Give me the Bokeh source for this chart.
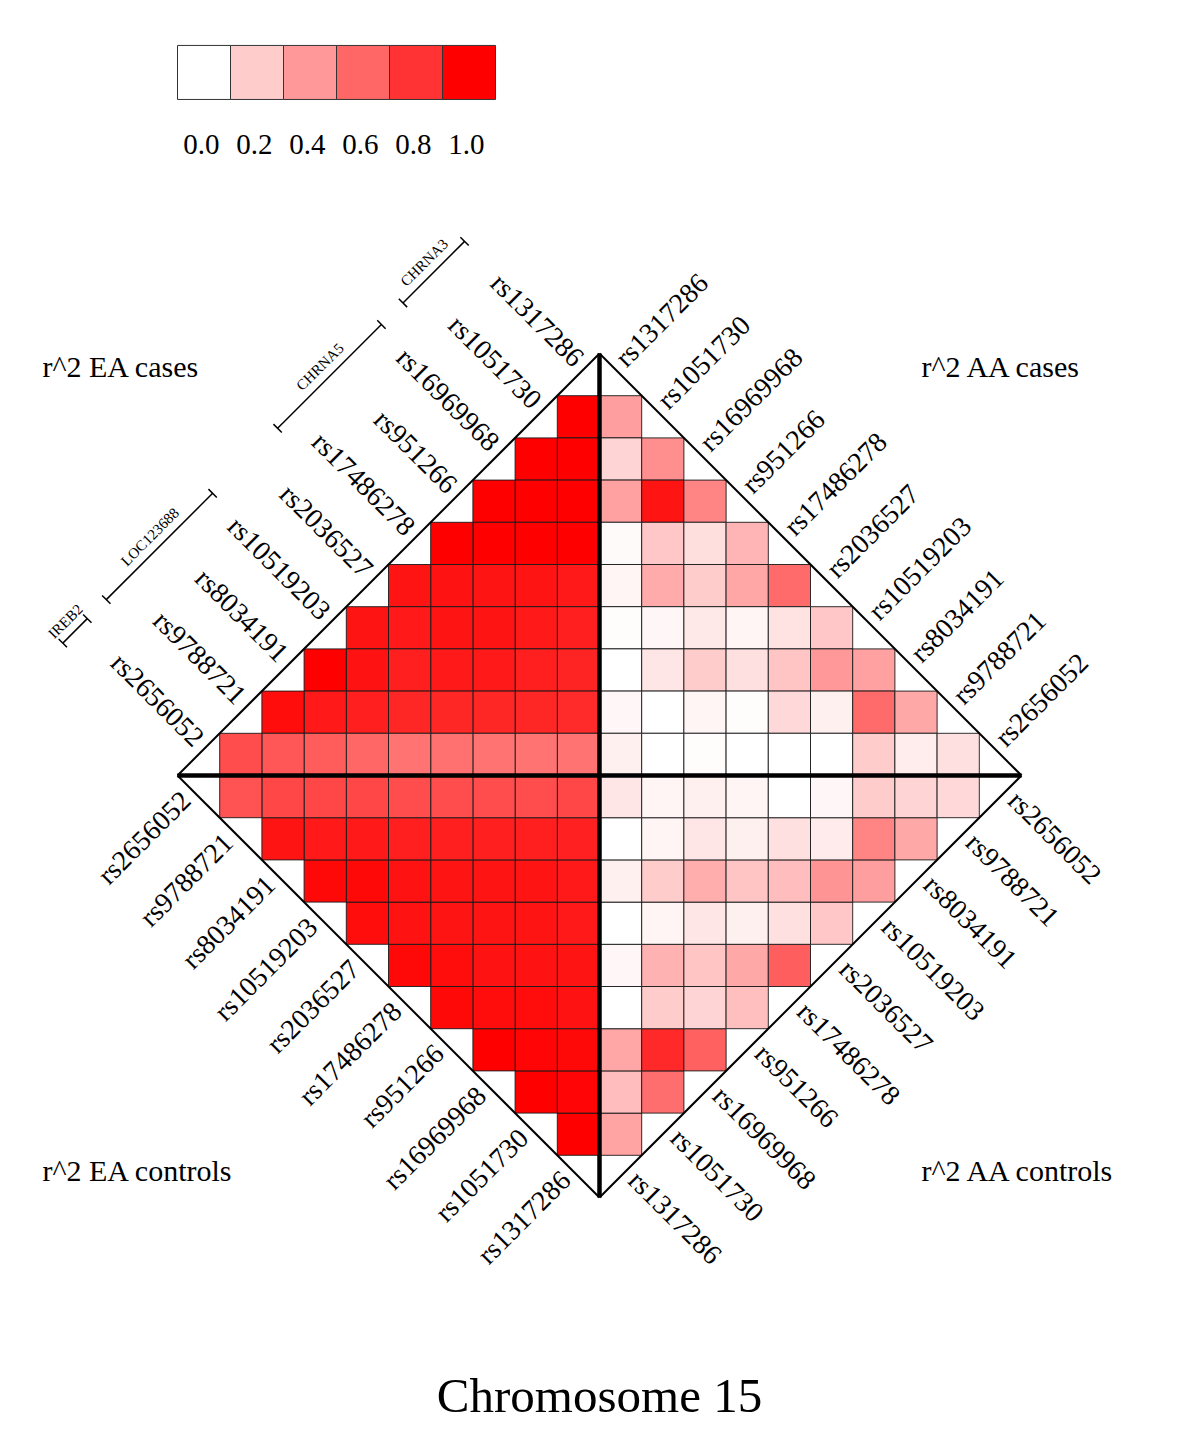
import math
from bokeh.plotting import figure
from bokeh.models import Range1d, ColumnDataSource
from bokeh.embed import file_html
from bokeh.resources import INLINE
from bokeh.core.properties import value

# ---------------- data ----------------
snps = ["rs1317286", "rs1051730", "rs16969968", "rs951266", "rs17486278",
        "rs2036527", "rs10519203", "rs8034191", "rs9788721", "rs2656052"]

# r^2 values: row i (SNP i, i = 1..9) vs SNP j (j = 0..i-1)
ea_cases = [
    [1.00],
    [1.00, 1.00],
    [1.00, 1.00, 1.00],
    [1.00, 1.00, 1.00, 1.00],
    [0.90, 0.92, 0.92, 0.93, 0.92],
    [0.88, 0.90, 0.92, 0.92, 0.90, 0.92],
    [0.86, 0.88, 0.90, 0.90, 0.88, 0.93, 1.00],
    [0.83, 0.85, 0.85, 0.85, 0.85, 0.88, 0.90, 0.95],
    [0.55, 0.55, 0.55, 0.56, 0.55, 0.60, 0.64, 0.66, 0.70],
]
ea_controls = [
    [1.00],
    [0.98, 1.00],
    [0.97, 0.98, 1.00],
    [0.93, 0.95, 0.95, 0.97],
    [0.92, 0.93, 0.93, 0.95, 0.97],
    [0.90, 0.92, 0.92, 0.92, 0.93, 0.95],
    [0.90, 0.92, 0.92, 0.92, 0.93, 0.97, 0.97],
    [0.87, 0.88, 0.88, 0.88, 0.88, 0.90, 0.90, 0.92],
    [0.72, 0.70, 0.70, 0.70, 0.70, 0.72, 0.72, 0.72, 0.68],
]
aa_cases = [
    [0.38],
    [0.17, 0.44],
    [0.37, 0.92, 0.48],
    [0.02, 0.22, 0.13, 0.29],
    [0.04, 0.33, 0.20, 0.35, 0.58],
    [0.01, 0.03, 0.09, 0.04, 0.11, 0.22],
    [0.00, 0.10, 0.20, 0.12, 0.23, 0.40, 0.37],
    [0.03, 0.00, 0.04, 0.01, 0.15, 0.06, 0.58, 0.34],
    [0.06, 0.00, 0.01, 0.00, 0.00, 0.00, 0.20, 0.07, 0.12],
]
aa_controls = [
    [0.36],
    [0.26, 0.57],
    [0.35, 0.84, 0.62],
    [0.00, 0.20, 0.17, 0.25],
    [0.03, 0.30, 0.23, 0.34, 0.63],
    [0.00, 0.04, 0.10, 0.06, 0.12, 0.22],
    [0.06, 0.20, 0.32, 0.23, 0.26, 0.42, 0.38],
    [0.00, 0.04, 0.10, 0.06, 0.12, 0.08, 0.48, 0.34],
    [0.10, 0.04, 0.06, 0.04, 0.00, 0.03, 0.20, 0.17, 0.15],
]

quadrant_titles = ["r^2 EA cases", "r^2 AA cases", "r^2 EA controls", "r^2 AA controls"]

legend_values = [0.0, 0.2, 0.4, 0.6, 0.8, 1.0]
legend_labels = ["0.0", "0.2", "0.4", "0.6", "0.8", "1.0"]

genes = ["CHRNA3", "CHRNA5", "LOC123688", "IREB2"]
gene_start = [-0.23, 1.74, 5.74, 8.71]   # position along SNP axis
gene_end = [1.23, 4.20, 8.26, 9.29]

title = "Chromosome 15"

# ---------------- layout ----------------
FONT = value("Liberation Serif")
S = 42.2                   # px per cell
W, H = 1184, 1436
cx, cy = 599, 775          # centre of diamond in figure px
N = len(snps)


def r2_color(r):
    g = int(round(255 * (1 - r)))
    return "#%02x%02x%02x" % (255, g, g)


p = figure(width=W, height=H,
           x_range=Range1d(-cx / S, (W - cx) / S),
           y_range=Range1d(-(H - cy) / S, cy / S),
           output_backend="svg", toolbar_location=None,
           x_axis_type=None, y_axis_type=None, min_border=0)
p.outline_line_color = None
p.background_fill_color = "white"
p.border_fill_color = "white"

quadrants = [(ea_cases, -1, 1), (aa_cases, 1, 1), (ea_controls, -1, -1), (aa_controls, 1, -1)]

for mat, sx, sy in quadrants:
    L, R, T, B, C = [], [], [], [], []
    for ii, row in enumerate(mat):
        i = ii + 1
        for j, r in enumerate(row):
            x0, x1 = sx * j, sx * (j + 1)
            y0, y1 = sy * (N - 1 - i), sy * (N - i)
            L.append(min(x0, x1)); R.append(max(x0, x1))
            B.append(min(y0, y1)); T.append(max(y0, y1))
            C.append(r2_color(r))
    src = ColumnDataSource(dict(left=L, right=R, top=T, bottom=B, color=C))
    p.quad(left="left", right="right", top="top", bottom="bottom", source=src,
           fill_color="color", line_color="#1a1a1a", line_width=1, line_alpha=0.9)

    # diamond edge
    p.line([sx * N, 0], [0, sy * N], line_color="black", line_width=2)

    # SNP labels
    ang = sx * sy * math.pi / 4
    d = 0.2          # offset outward from the edge
    up = 0.23        # shift toward the text's "up" side
    vx, vy = -math.sin(ang), math.cos(ang)
    xs, ys = [], []
    for k in range(N):
        xs.append(sx * (k + 0.5) + d * sx / math.sqrt(2) + up * vx)
        ys.append(sy * (N - 0.5 - k) + d * sy / math.sqrt(2) + up * vy)
    p.text(x=xs, y=ys, text=snps, angle=ang,
           text_align="right" if sx < 0 else "left", text_baseline="middle",
           text_font=FONT, text_font_size="28px", text_color="black")

# thick cross
p.line([0, 0], [-N, N], line_color="black", line_width=4.5)
p.line([-N, N], [0, 0], line_color="black", line_width=4.5)

# quadrant titles
p.text(x=[-13.2, 7.63, -13.2, 7.63], y=[9.69, 9.69, -9.36, -9.36], text=quadrant_titles,
       text_align="left", text_baseline="middle", text_font=FONT,
       text_font_size="30px", text_color="black")

# gene brackets (upper-left)
D = 4.14
tick = 0.14
r2 = math.sqrt(2)


def along(k, dist):
    return (-(k + 0.5) - dist / r2, (N - 0.5 - k) + dist / r2)


for g, k0, k1 in zip(genes, gene_start, gene_end):
    a = along(k0, D); b = along(k1, D)
    p.line([a[0], b[0]], [a[1], b[1]], line_color="black", line_width=1.5)
    for kk in (k0, k1):
        t0 = along(kk, D - tick); t1 = along(kk, D + tick)
        p.line([t0[0], t1[0]], [t0[1], t1[1]], line_color="black", line_width=1.5)
    m = along((k0 + k1) / 2, D + 0.32)
    p.text(x=[m[0]], y=[m[1]], text=[g], angle=math.pi / 4, text_align="center",
           text_baseline="middle", text_font=FONT, text_font_size="15px",
           text_color="black")

# colour legend
lw = 1.256
lx0 = -N
lsrc = ColumnDataSource(dict(
    left=[lx0 + i * lw for i in range(len(legend_values))],
    right=[lx0 + (i + 1) * lw for i in range(len(legend_values))],
    color=[r2_color(v) for v in legend_values]))
p.quad(left="left", right="right", top=17.3, bottom=16.02, source=lsrc,
       fill_color="color", line_color="#333333", line_width=1)
p.text(x=[lx0 + (i + 0.5) * lw - 0.06 for i in range(len(legend_labels))],
       y=[14.95] * len(legend_labels), text=legend_labels,
       text_align="center", text_baseline="middle", text_font=FONT,
       text_font_size="29px", text_color="black")

# title
p.text(x=[0], y=[-14.7], text=[title], text_align="center", text_baseline="middle",
       text_font=FONT, text_font_size="49px", text_color="black")

open("out.html", "w").write(file_html(p, INLINE))
